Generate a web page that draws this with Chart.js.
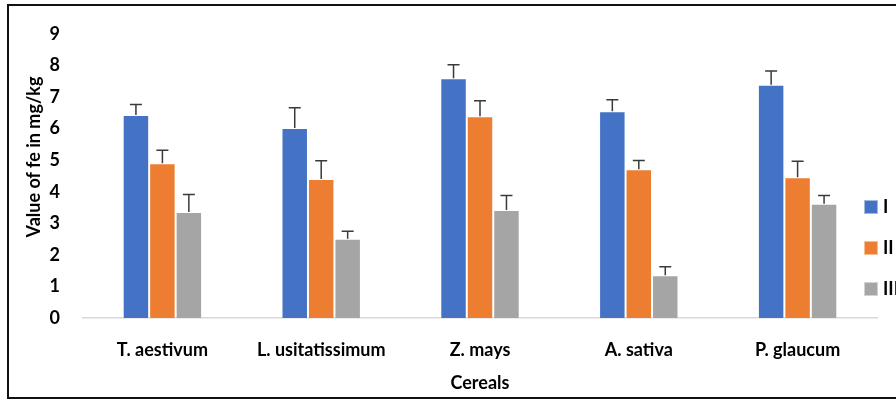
<!DOCTYPE html>
<html>
<head>
<meta charset="utf-8">
<script src="https://cdn.jsdelivr.net/npm/chart.js@4.4.1/dist/chart.umd.min.js"></script>
<style>
  html, body { margin: 0; padding: 0; background: #fff; overflow: hidden; }
  #wrap { position: relative; width: 896px; height: 403px; font-family: Lato, sans-serif; font-weight: 700; color: #000; }
  #frame { position: absolute; left: 7px; top: 4px; width: 1000px; height: 395px; border: 2px solid #111; box-sizing: border-box; }
  #ytitle { position: absolute; left: 33px; top: 157px; transform: translate(-50%, -50%) rotate(-90deg); white-space: nowrap; font-size: 18px; }
  #legend { position: absolute; left: 864px; top: 199px; font-size: 18px; }
  #legend div { height: 41px; display: flex; align-items: flex-start; white-space: nowrap; }
  #legend span.box { display: inline-block; width: 12px; height: 12px; margin-right: 5px; margin-top: 1px; border: 1px solid rgba(255,255,255,0.5); }
  #legend span.txt { line-height: 15px; }
</style>
</head>
<body>
<div id="wrap">
  <canvas id="feChart" width="896" height="403"></canvas>
  <div id="frame"></div>
  <div id="ytitle">Value of fe in mg/kg</div>
  <div id="legend"></div>
</div>
<script>
// data
const cereals = ['T. aestivum', 'L. usitatissimum', 'Z. mays', 'A. sativa', 'P. glaucum'];
const seriesNames = ['I', 'II', 'III'];
const valuesI   = [6.43, 6.02, 7.59, 6.55, 7.39];
const valuesII  = [4.90, 4.40, 6.39, 4.71, 4.46];
const valuesIII = [3.36, 2.51, 3.42, 1.35, 3.62];
const errI   = [0.33, 0.64, 0.43, 0.36, 0.43];
const errII  = [0.41, 0.58, 0.49, 0.28, 0.50];
const errIII = [0.55, 0.24, 0.46, 0.27, 0.26];
const colors = ['#4472C4', '#ED7D31', '#A5A5A5'];

const errs = [errI, errII, errIII];

// simple upper error bars with a cap
const errorBars = {
  id: 'errorBars',
  afterDatasetsDraw(chart) {
    const ctx = chart.ctx;
    const y = chart.scales.y;
    ctx.save();
    ctx.strokeStyle = '#3a3a3a';
    ctx.lineWidth = 1.5;
    chart.data.datasets.forEach((ds, di) => {
      const meta = chart.getDatasetMeta(di);
      meta.data.forEach((bar, i) => {
        const top = y.getPixelForValue(ds.data[i] + errs[di][i]);
        ctx.beginPath();
        ctx.moveTo(bar.x, bar.y);
        ctx.lineTo(bar.x, top);
        ctx.moveTo(bar.x - 6, top);
        ctx.lineTo(bar.x + 6, top);
        ctx.stroke();
      });
    });
    ctx.restore();
  }
};

const font = { family: 'Lato, sans-serif', size: 18, weight: '700' };

new Chart(document.getElementById('feChart'), {
  type: 'bar',
  data: {
    labels: cereals,
    datasets: [valuesI, valuesII, valuesIII].map((vals, i) => ({
      label: seriesNames[i],
      data: vals,
      backgroundColor: colors[i],
      borderColor: 'rgba(255,255,255,0.35)',
      borderWidth: 1,
      categoryPercentage: 0.5,
      barPercentage: 1.0
    }))
  },
  options: {
    responsive: false,
    animation: false,
    layout: { padding: { top: 24, right: 19, bottom: 0, left: 0 } },
    plugins: { legend: { display: false }, tooltip: { enabled: false } },
    scales: {
      x: {
        grid: { display: false, drawTicks: false },
        border: { color: '#D9D9D9', width: 1.5 },
        ticks: { color: '#000', font: font, padding: 21, maxRotation: 0 },
        title: { display: true, text: 'Cereals', color: '#000', font: font, padding: { top: 3, bottom: 9 } },
        afterFit: s => { s.height = 85; }
      },
      y: {
        min: 0, max: 9,
        grid: { display: false, drawTicks: false },
        border: { display: false },
        ticks: { stepSize: 1, color: '#000', font: font, padding: 23 },
        afterFit: s => { s.width = 83; }
      }
    }
  },
  plugins: [errorBars]
});

// legend as html, partly cut by the right edge like the source
const legend = document.getElementById('legend');
seriesNames.forEach((name, i) => {
  const row = document.createElement('div');
  row.innerHTML = '<span class="box" style="background:' + colors[i] + '"></span><span class="txt">' + name + '</span>';
  legend.appendChild(row);
});
</script>
</body>
</html>
